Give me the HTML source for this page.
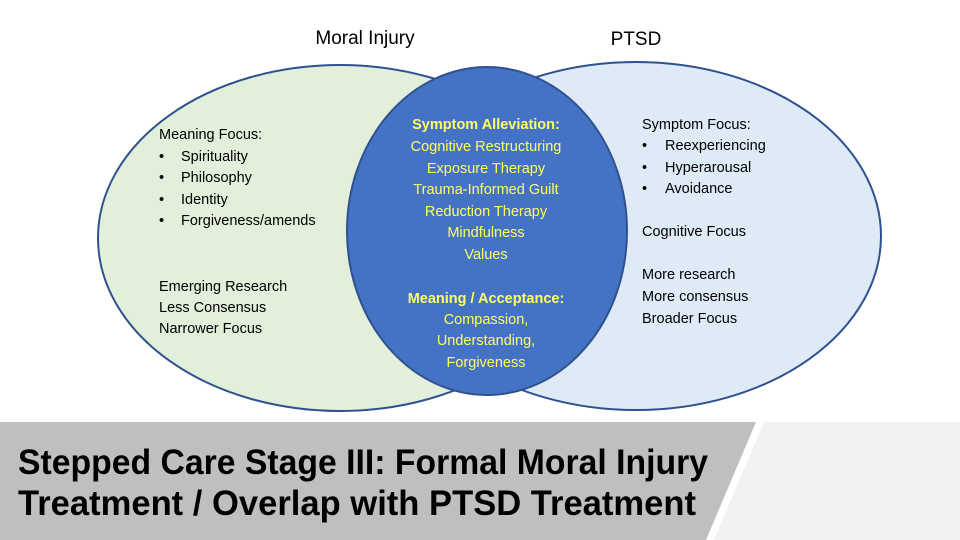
<!DOCTYPE html>
<html><head><meta charset="utf-8"><style>
html,body{margin:0;padding:0;background:#fff;width:960px;height:540px;overflow:hidden}
svg{display:block}
text{font-family:"Liberation Sans",sans-serif}
</style></head><body>
<svg width="960" height="540" viewBox="0 0 960 540" xmlns="http://www.w3.org/2000/svg">
<rect width="960" height="540" fill="#fff"/>
<ellipse cx="340" cy="238" rx="242" ry="173" fill="#e2efda" stroke="#2f528f" stroke-width="2"/>
<ellipse cx="636" cy="236" rx="245" ry="174" fill="#deebf7" stroke="#2f528f" stroke-width="2"/>
<ellipse cx="487" cy="231" rx="140" ry="164" fill="#4472c4" stroke="#2f528f" stroke-width="2"/>
<text x="365" y="44" font-size="19" text-anchor="middle" fill="#000">Moral Injury</text>
<text x="636" y="45" font-size="19" text-anchor="middle" fill="#000">PTSD</text>
<g font-size="14.5" fill="#000">
<text x="159" y="139">Meaning Focus:</text>
<text x="159" y="161">•</text><text x="181" y="161">Spirituality</text>
<text x="159" y="182">•</text><text x="181" y="182">Philosophy</text>
<text x="159" y="204">•</text><text x="181" y="204">Identity</text>
<text x="159" y="225">•</text><text x="181" y="225">Forgiveness/amends</text>
<text x="159" y="291">Emerging Research</text>
<text x="159" y="312">Less Consensus</text>
<text x="159" y="333">Narrower Focus</text>
<text x="642" y="129">Symptom Focus:</text>
<text x="642" y="150">•</text><text x="665" y="150">Reexperiencing</text>
<text x="642" y="172">•</text><text x="665" y="172">Hyperarousal</text>
<text x="642" y="193">•</text><text x="665" y="193">Avoidance</text>
<text x="642" y="236">Cognitive Focus</text>
<text x="642" y="279">More research</text>
<text x="642" y="301">More consensus</text>
<text x="642" y="323">Broader Focus</text>
</g>
<g font-size="14.5" fill="#ffff66" text-anchor="middle">
<text x="486" y="129" font-weight="bold">Symptom Alleviation:</text>
<text x="486" y="151">Cognitive Restructuring</text>
<text x="486" y="173">Exposure Therapy</text>
<text x="486" y="194">Trauma-Informed Guilt</text>
<text x="486" y="216">Reduction Therapy</text>
<text x="486" y="237">Mindfulness</text>
<text x="486" y="259">Values</text>
<text x="486" y="303" font-weight="bold">Meaning / Acceptance:</text>
<text x="486" y="324">Compassion,</text>
<text x="486" y="345">Understanding,</text>
<text x="486" y="367">Forgiveness</text>
</g>
<polygon points="0,422 756,422 706,540 0,540" fill="#bfbfbf"/>
<polygon points="764,422 960,422 960,540 714,540" fill="#f2f2f2"/>
<g font-size="35" font-weight="bold" fill="#000">
<text x="18" y="474" textLength="690" lengthAdjust="spacingAndGlyphs">Stepped Care Stage III: Formal Moral Injury</text>
<text x="18" y="515" textLength="678" lengthAdjust="spacingAndGlyphs">Treatment / Overlap with PTSD Treatment</text>
</g>
</svg>
</body></html>
